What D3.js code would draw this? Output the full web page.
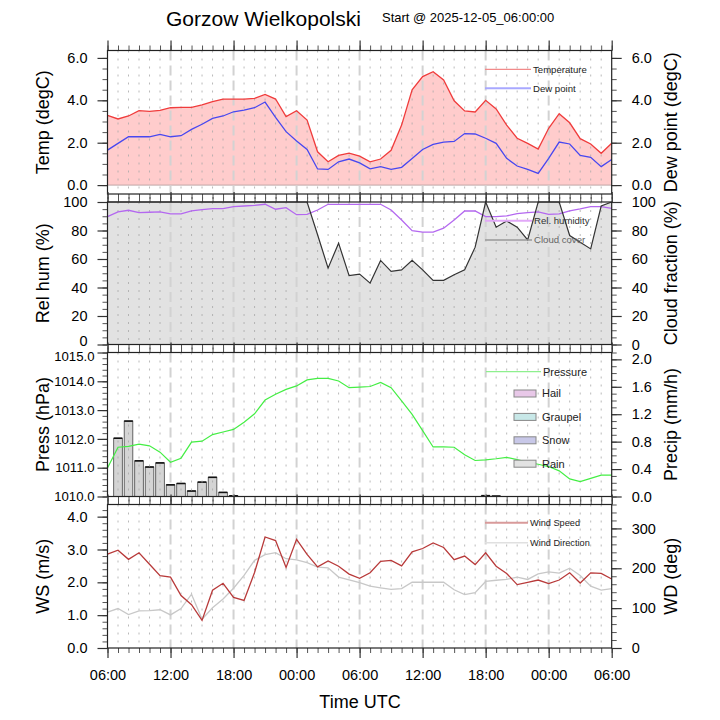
<!DOCTYPE html>
<html>
<head>
<meta charset="utf-8">
<script src="https://cdn.jsdelivr.net/npm/d3@7"></script>
<style>
body { margin: 0; background: #fff; }
text { font-family: "Liberation Sans", Arial, Helvetica, sans-serif; }
</style>
</head>
<body>
<div id="chart"></div>
<script>
// hourly values from 2025-12-05 06 UTC to 2025-12-07 06 UTC
var hours = d3.range(0, 49);

var temp = [3.29,3.12,3.26,3.51,3.48,3.53,3.65,3.67,3.67,3.78,3.94,4.06,4.06,4.06,4.09,4.28,4.06,3.23,3.51,3.07,1.57,1.10,1.40,1.51,1.37,
  1.10,1.23,1.64,2.83,4.49,5.12,5.35,4.96,3.98,3.50,3.45,4.00,3.59,2.83,2.21,1.97,1.70,2.68,3.37,2.94,2.19,1.94,1.50,1.97];
var dew = [1.65,1.97,2.28,2.28,2.28,2.39,2.28,2.33,2.63,2.87,3.15,3.26,3.46,3.54,3.65,3.92,3.20,2.52,2.08,1.68,0.76,0.74,1.10,1.23,1.05,
  0.77,0.87,0.74,0.84,1.26,1.68,1.92,2.03,2.06,2.43,2.41,2.21,1.97,1.26,0.90,0.74,0.55,1.26,2.03,1.94,1.40,1.31,0.87,1.21];
var rh = [89.7,93.0,94.2,92.5,92.8,93.0,91.6,91.6,93.7,94.6,95.3,95.3,96.7,97.2,97.6,98.4,94.9,96.0,91.1,91.3,94.4,98.4,98.4,98.4,98.4,
  98.4,98.4,94.4,87.4,79.9,78.8,78.8,81.6,87.4,93.7,93.7,89.7,89.7,90.2,91.8,92.5,93.0,91.3,91.6,93.7,95.1,96.7,96.7,95.6];
var cloud = [100,100,100,100,100,100,100,100,100,100,100,100,100,100,100,100,100,100,100,100,77,53.6,71.1,48.3,49.4,
  43.1,59.0,51.3,52.4,59.0,52.4,45.0,45.0,49.0,52.4,68.3,100,82.3,86.7,82.3,73.4,100,100,100,76.5,71.8,67.1,97.2,100];
var pres = [1010.99,1011.71,1011.74,1011.82,1011.76,1011.54,1011.19,1011.33,1011.89,1011.92,1012.15,1012.24,1012.33,1012.58,1012.87,
  1013.35,1013.55,1013.72,1013.84,1014.05,1014.10,1014.10,1014.01,1013.78,1013.80,
  1013.82,1013.96,1013.78,1013.32,1012.85,1012.29,1011.72,1011.72,1011.71,1011.45,1011.25,1011.27,1011.31,1011.36,1011.28,
  1011.19,1011.12,1011.04,1010.89,1010.61,1010.52,1010.63,1010.74,1010.74];
var rain = [0,0.85,1.10,0.52,0.43,0.49,0.17,0.19,0.08,0.21,0.28,0.06,0.01,0,0,0,0,0,0,0,0,0,0,0,0,
  0,0,0,0,0,0,0,0,0,0,0,0.012,0.006,0,0,0,0,0,0,0,0,0,0,0];
var ws = [2.86,2.98,2.70,2.90,2.55,2.20,2.16,1.60,1.32,0.84,1.76,1.97,1.54,1.45,2.30,3.38,3.27,2.45,3.31,2.85,2.47,2.65,2.49,2.25,2.12,
  2.29,2.64,2.67,2.50,2.93,3.03,3.20,3.06,2.69,2.80,2.54,2.90,2.49,2.27,1.93,2.00,2.07,1.96,2.07,2.29,1.98,2.29,2.27,2.10];
var wd = [90,99,84,93,94,96,83,99,135,72,101,123,150,182,220,234,239,224,221,214,203,201,178,171,164,
  155,151,147,149,165,165,165,165,146,134,139,167,170,172,178,172,186,191,188,200,182,155,145,149];

var timeTicks = [0, 6, 12, 18, 24, 30, 36, 42, 48];
var timeLabels = ["06:00","12:00","18:00","00:00","06:00","12:00","18:00","00:00","06:00"];

var left = 107.5, right = 611.7;
var panels = [
  {top: 50.5, bottom: 194},
  {top: 202, bottom: 344.5},
  {top: 352.5, bottom: 496.5},
  {top: 504.5, bottom: 648}
];

var svg = d3.select("#chart").append("svg")
  .attr("width", 720)
  .attr("height", 720);

var x = d3.scaleLinear().domain([0, 48]).range([left, right]);

var yT = d3.scaleLinear().domain([-0.42, 6.35]).range([panels[0].bottom, panels[0].top]);
var yRH = d3.scaleLinear().domain([0, 100]).range([panels[1].bottom, panels[1].top]);
var yP = d3.scaleLinear().domain([1010, 1015]).range([panels[2].bottom, panels[2].top]);
var yPr = d3.scaleLinear().domain([0, 2.1]).range([panels[2].bottom, panels[2].top]);
var yWS = d3.scaleLinear().domain([0, 4.37]).range([panels[3].bottom, panels[3].top]);
var yWD = d3.scaleLinear().domain([0, 360]).range([panels[3].bottom, panels[3].top]);

function grid(p) {
  var g = svg.append("g");
  g.selectAll("line").data(d3.range(1, 48)).enter().append("line")
    .attr("x1", d => x(d)).attr("x2", d => x(d))
    .attr("y1", p.top).attr("y2", p.bottom)
    .attr("stroke", d => d % 6 == 0 ? "#d2d2d2" : "#a8a8a8")
    .attr("stroke-width", d => d % 6 == 0 ? 2 : 0.8)
    .attr("stroke-dasharray", d => d % 6 == 0 ? "10,5" : "2,6");
}

function line(yScale, vals) {
  return d3.line().x(d => x(d)).y(d => yScale(vals[d]));
}

function styleAxis(g, major, size) {
  g.select(".domain").remove();
  g.selectAll("line").attr("stroke", major ? "#333" : "#555").attr("stroke-width", major ? 1.2 : 1);
  g.selectAll("text").style("font-size", (size || 14.5) + "px").attr("fill", "#000");
}

function yAxes(p, yl, lMaj, lMin, lFmt, yr, rMaj, rMin, rFmt, lSize, lPad) {
  svg.append("g").attr("transform", "translate(" + left + ",0)")
    .call(d3.axisLeft(yl).tickValues(lMin).tickSize(5).tickFormat(""))
    .call(g => styleAxis(g, false));
  var la = svg.append("g").attr("transform", "translate(" + left + ",0)")
    .call(d3.axisLeft(yl).tickValues(lMaj).tickSize(10).tickPadding(lPad == null ? 10 : lPad).tickFormat(lFmt))
    .call(g => styleAxis(g, true, lSize));
  svg.append("g").attr("transform", "translate(" + right + ",0)")
    .call(d3.axisRight(yr).tickValues(rMin).tickSize(5).tickFormat(""))
    .call(g => styleAxis(g, false));
  svg.append("g").attr("transform", "translate(" + right + ",0)")
    .call(d3.axisRight(yr).tickValues(rMaj).tickSize(10).tickPadding(10).tickFormat(rFmt))
    .call(g => styleAxis(g, true));

  // top and bottom time ticks, pointing out of the frame
  svg.append("g").attr("transform", "translate(0," + p.top + ")")
    .call(d3.axisTop(x).tickValues(hours).tickSize(5).tickFormat(""))
    .call(g => styleAxis(g, false));
  svg.append("g").attr("transform", "translate(0," + p.top + ")")
    .call(d3.axisTop(x).tickValues(timeTicks).tickSize(10).tickFormat(""))
    .call(g => styleAxis(g, true));
  svg.append("g").attr("transform", "translate(0," + p.bottom + ")")
    .call(d3.axisBottom(x).tickValues(hours).tickSize(5).tickFormat(""))
    .call(g => styleAxis(g, false));
  return la;
}

function frame(p) {
  svg.append("rect")
    .attr("x", left).attr("y", p.top)
    .attr("width", right - left).attr("height", p.bottom - p.top)
    .attr("fill", "none").attr("stroke", "#222").attr("stroke-width", 1.2);
}

function legendLine(x1, x2, y, color, w, label, size, tcol) {
  svg.append("line").attr("x1", x1).attr("x2", x2).attr("y1", y).attr("y2", y)
    .attr("stroke", color).attr("stroke-width", w);
  svg.append("text").attr("x", x2 + 2).attr("y", y).attr("dy", "0.35em")
    .style("font-size", size + "px").attr("fill", tcol || "#222").text(label);
}

var f1 = d3.format(".1f"), fd = d3.format("d");

/******** panel 1: temperature / dew point ********/
var p1 = panels[0];
svg.append("path").datum(hours)
  .attr("d", d3.area().x(d => x(d)).y0(yT(0)).y1(d => yT(temp[d])))
  .attr("fill", "#ffcccc");
svg.append("line").attr("x1", left).attr("x2", right).attr("y1", yT(0)).attr("y2", yT(0))
  .attr("stroke", "#bfa6a6").attr("stroke-width", 1);
grid(p1);
svg.append("path").datum(hours).attr("d", line(yT, dew))
  .attr("fill", "none").attr("stroke", "#4848f0").attr("stroke-width", 1.3);
svg.append("path").datum(hours).attr("d", line(yT, temp))
  .attr("fill", "none").attr("stroke", "#f03c3c").attr("stroke-width", 1.3);
legendLine(485, 531, 69.3, "#f28a8a", 1.2, "Temperature", 9.6);
legendLine(485, 531, 88.3, "#a8a8ff", 2, "Dew point", 9.6);
yAxes(p1, yT, [0, 2, 4, 6], d3.range(0, 6.01, 0.5), f1, yT, [0, 2, 4, 6], d3.range(0, 6.01, 0.5), f1);
frame(p1);

/******** panel 2: relative humidity / cloud cover ********/
var p2 = panels[1];
svg.append("path").datum(hours)
  .attr("d", d3.area().x(d => x(d)).y0(yRH(0)).y1(d => yRH(cloud[d])))
  .attr("fill", "#e2e2e2");
grid(p2);
svg.append("path").datum(hours).attr("d", line(yRH, rh))
  .attr("fill", "none").attr("stroke", "#b468f0").attr("stroke-width", 1.3);
svg.append("path").datum(hours).attr("d", line(yRH, cloud))
  .attr("fill", "none").attr("stroke", "#333").attr("stroke-width", 1.2);
legendLine(485, 532, 220.7, "#e2a8f8", 2, "Rel. humidity", 9.6, "#333");
legendLine(485, 532, 240, "#999", 1.5, "Cloud cover", 9.6, "#666");
var rhAxis = yAxes(p2, yRH, d3.range(0, 101, 20), d3.range(0, 101, 5), fd, yRH, d3.range(0, 101, 20), d3.range(0, 101, 5), fd);
// lift the bottom "0" a little so it clears the pressure label below
rhAxis.selectAll(".tick").filter(d => d === 0).select("text").attr("y", -4);
frame(p2);

/******** panel 3: pressure / precipitation ********/
var p3 = panels[2];
var wetHours = hours.filter(h => rain[h] > 0);
var halfBar = 0.41;
svg.selectAll(".rain").data(wetHours).enter().append("rect")
  .attr("class", "rain")
  .attr("x", h => x(h - halfBar))
  .attr("width", x(2 * halfBar) - x(0))
  .attr("y", h => yPr(rain[h]))
  .attr("height", h => yPr(0) - yPr(rain[h]))
  .attr("fill", "#d4d4d4").attr("stroke", "#444").attr("stroke-width", 0.8);
svg.selectAll(".raintop").data(wetHours).enter().append("line")
  .attr("x1", h => x(h - halfBar)).attr("x2", h => x(h + halfBar))
  .attr("y1", h => yPr(rain[h])).attr("y2", h => yPr(rain[h]))
  .attr("stroke", "#111").attr("stroke-width", 1.6);
grid(p3);
svg.append("path").datum(hours).attr("d", line(yP, pres))
  .attr("fill", "none").attr("stroke", "#44ee44").attr("stroke-width", 1.2);
legendLine(486, 541, 371.7, "#8ef08e", 1.2, "Pressure", 11);
var precipTypes = ["Hail", "Graupel", "Snow", "Rain"];
var precipColors = ["#e8c8e8", "#c8e8e8", "#c8c8e8", "#e2e2e2"];
precipTypes.forEach(function (name, i) {
  var cy = 393.5 + i * 23.4;
  svg.append("rect").attr("x", 514).attr("y", cy - 3.5).attr("width", 22).attr("height", 7)
    .attr("fill", precipColors[i]).attr("stroke", "#888").attr("stroke-width", 1);
  svg.append("text").attr("x", 542).attr("y", cy).attr("dy", "0.35em")
    .style("font-size", "11px").attr("fill", "#222").text(name);
});
var pAxis = yAxes(p3, yP, d3.range(1010, 1015.01, 1), d3.range(1010, 1015.01, 0.2), f1,
  yPr, d3.range(0, 2.01, 0.4), d3.range(0, 2.11, 0.1), f1, 13.2, 3);
pAxis.selectAll(".tick").filter(d => d > 1014.9).select("text").attr("dy", "0.62em");
frame(p3);

/******** panel 4: wind speed / direction ********/
var p4 = panels[3];
grid(p4);
svg.append("path").datum(hours).attr("d", line(yWD, wd))
  .attr("fill", "none").attr("stroke", "#c8c8c8").attr("stroke-width", 1.3);
svg.append("path").datum(hours).attr("d", line(yWS, ws))
  .attr("fill", "none").attr("stroke", "#b83a3a").attr("stroke-width", 1.3);
legendLine(485, 528, 522.7, "#d89a9a", 2, "Wind Speed", 9.2);
legendLine(485, 528, 542.7, "#e0e0e0", 1.5, "Wind Direction", 9.2);
yAxes(p4, yWS, d3.range(0, 4.01, 1), d3.range(0, 4.21, 0.2), f1, yWD, d3.range(0, 301, 100), d3.range(0, 361, 20), fd);
svg.append("g").attr("transform", "translate(0," + p4.bottom + ")")
  .call(d3.axisBottom(x).tickValues(timeTicks).tickSize(10).tickPadding(12)
    .tickFormat((d, i) => timeLabels[i]))
  .call(g => styleAxis(g, true));
frame(p4);

/******** titles ********/
svg.append("text").attr("x", 166).attr("y", 26).style("font-size", "21px").text("Gorzow Wielkopolski");
svg.append("text").attr("x", 382).attr("y", 22).style("font-size", "13px").text("Start @ 2025-12-05_06:00:00");
svg.append("text").attr("x", 360).attr("y", 707.5).attr("text-anchor", "middle")
  .style("font-size", "18px").text("Time UTC");

var leftTitles = ["Temp (degC)", "Rel hum (%)", "Press (hPa)", "WS (m/s)"];
var rightTitles = ["Dew point (degC)", "Cloud fraction (%)", "Precip (mm/h)", "WD (deg)"];
panels.forEach(function (p, i) {
  var cy = (p.top + p.bottom) / 2;
  svg.append("text").attr("transform", "translate(49," + cy + ") rotate(-90)")
    .attr("text-anchor", "middle").style("font-size", "18px").text(leftTitles[i]);
  svg.append("text").attr("transform", "translate(677," + cy + ") rotate(-90)")
    .attr("text-anchor", "middle").style("font-size", "18px").text(rightTitles[i]);
});
</script>
</body>
</html>
